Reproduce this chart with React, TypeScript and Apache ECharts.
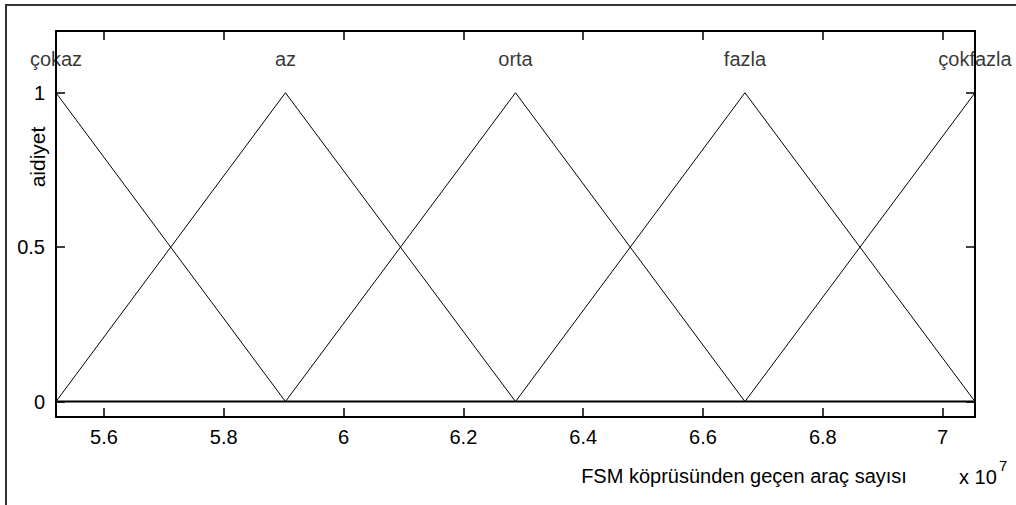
import React, { useEffect, useRef } from "react";
import * as echarts from "echarts";

// Universe of discourse (vehicles, in units of 1e7)
const X_MIN = 5.52;
const X_MAX = 7.054;
const Y_MIN = -0.05;
const Y_MAX = 1.2;

const xTicks = [5.6, 5.8, 6.0, 6.2, 6.4, 6.6, 6.8, 7.0];
const yTicks = [0, 0.5, 1];

// Triangular membership functions (vertices within the plotted range)
const mfNames = ["çokaz", "az", "orta", "fazla", "çokfazla"];
const mfPeaks = [5.52, 5.903, 6.287, 6.67, 7.054];
const cokaz = [[5.52, 1], [5.903, 0]];
const az = [[5.52, 0], [5.903, 1], [6.287, 0]];
const orta = [[5.903, 0], [6.287, 1], [6.67, 0]];
const fazla = [[6.287, 0], [6.67, 1], [7.054, 0]];
const cokfazla = [[6.67, 0], [7.054, 1]];
const mfCurves = [cokaz, az, orta, fazla, cokfazla];

const LABEL_LEVEL = 1.11;
const FONT = '"Liberation Sans", Arial, sans-serif';
const INK = "#000";

export default function App() {
  const ref = useRef<HTMLDivElement>(null);

  useEffect(() => {
    if (!ref.current) return;
    const chart = echarts.init(ref.current, null, { renderer: "svg" });

    const axisCommon = {
      type: "value" as const,
      axisLine: { show: true, onZero: false, lineStyle: { color: INK, width: 2 } },
      splitLine: { show: false },
    };

    chart.setOption({
      animation: false,
      backgroundColor: "#fff",
      textStyle: { fontFamily: FONT },
      grid: { left: 56, top: 31, width: 919, height: 386, containLabel: false },
      xAxis: [
        {
          ...axisCommon,
          position: "bottom",
          min: X_MIN,
          max: X_MAX,
          axisTick: { show: true, inside: true, length: 9, customValues: xTicks, lineStyle: { color: INK, width: 1.5 } },
          axisLabel: {
            show: true,
            customValues: xTicks,
            margin: 10,
            color: INK,
            fontSize: 20,
            fontFamily: FONT,
            formatter: (v: number) => String(Math.round(v * 10) / 10),
          },
        },
        {
          ...axisCommon,
          position: "top",
          min: X_MIN,
          max: X_MAX,
          axisTick: { show: true, inside: true, length: 9, customValues: xTicks, lineStyle: { color: INK, width: 1.5 } },
          axisLabel: { show: false },
        },
      ],
      yAxis: [
        {
          ...axisCommon,
          position: "left",
          min: Y_MIN,
          max: Y_MAX,
          axisTick: { show: true, inside: true, length: 9, customValues: yTicks, lineStyle: { color: INK, width: 1.5 } },
          axisLabel: {
            show: true,
            customValues: yTicks,
            margin: 11,
            color: INK,
            fontSize: 20,
            fontFamily: FONT,
            formatter: (v: number) => String(v),
          },
        },
        {
          ...axisCommon,
          position: "right",
          min: Y_MIN,
          max: Y_MAX,
          axisTick: { show: true, inside: true, length: 9, customValues: yTicks, lineStyle: { color: INK, width: 1.5 } },
          axisLabel: { show: false },
        },
      ],
      series: [
        {
          type: "line",
          data: [[X_MIN, 0], [X_MAX, 0]],
          showSymbol: false,
          lineStyle: { color: INK, width: 2 },
          silent: true,
        },
        ...mfCurves.map((pts, i) => ({
          name: mfNames[i],
          type: "line",
          data: pts,
          showSymbol: false,
          lineStyle: { color: "#000", width: 1 },
          silent: true,
          z: 3,
        })),
        {
          type: "scatter",
          symbolSize: 0,
          clip: false,
          silent: true,
          data: mfNames.map((n, i) => [mfPeaks[i], LABEL_LEVEL, n]),
          label: {
            show: true,
            position: "inside",
            color: INK,
            fontSize: 20,
            fontFamily: FONT,
            formatter: (p: any) => p.value[2],
          },
        },
      ],
      graphic: [
        {
          type: "rect",
          shape: { x: 6, y: 5, width: 1100, height: 600 },
          style: { fill: "none", stroke: "#333", lineWidth: 2 },
          silent: true,
        },
        {
          type: "text",
          x: 37,
          y: 157,
          rotation: Math.PI / 2,
          style: {
            text: "aidiyet",
            fill: INK,
            font: `21px ${FONT}`,
            align: "center",
            verticalAlign: "middle",
          },
        },
        {
          type: "text",
          x: 744,
          y: 476,
          style: {
            text: "FSM köprüsünden geçen araç sayısı",
            fill: INK,
            font: `20px ${FONT}`,
            align: "center",
            verticalAlign: "middle",
          },
        },
        {
          type: "text",
          x: 959,
          y: 477,
          style: {
            text: "x 10",
            fill: INK,
            font: `20px ${FONT}`,
            align: "left",
            verticalAlign: "middle",
          },
        },
        {
          type: "text",
          x: 999,
          y: 465,
          style: {
            text: "7",
            fill: INK,
            font: `15px ${FONT}`,
            align: "left",
            verticalAlign: "middle",
          },
        },
      ],
    });

    return () => chart.dispose();
  }, []);

  return (
    <div
      ref={ref}
      style={{ position: "fixed", left: 0, top: 0, width: 1016, height: 505, background: "#fff" }}
    />
  );
}
